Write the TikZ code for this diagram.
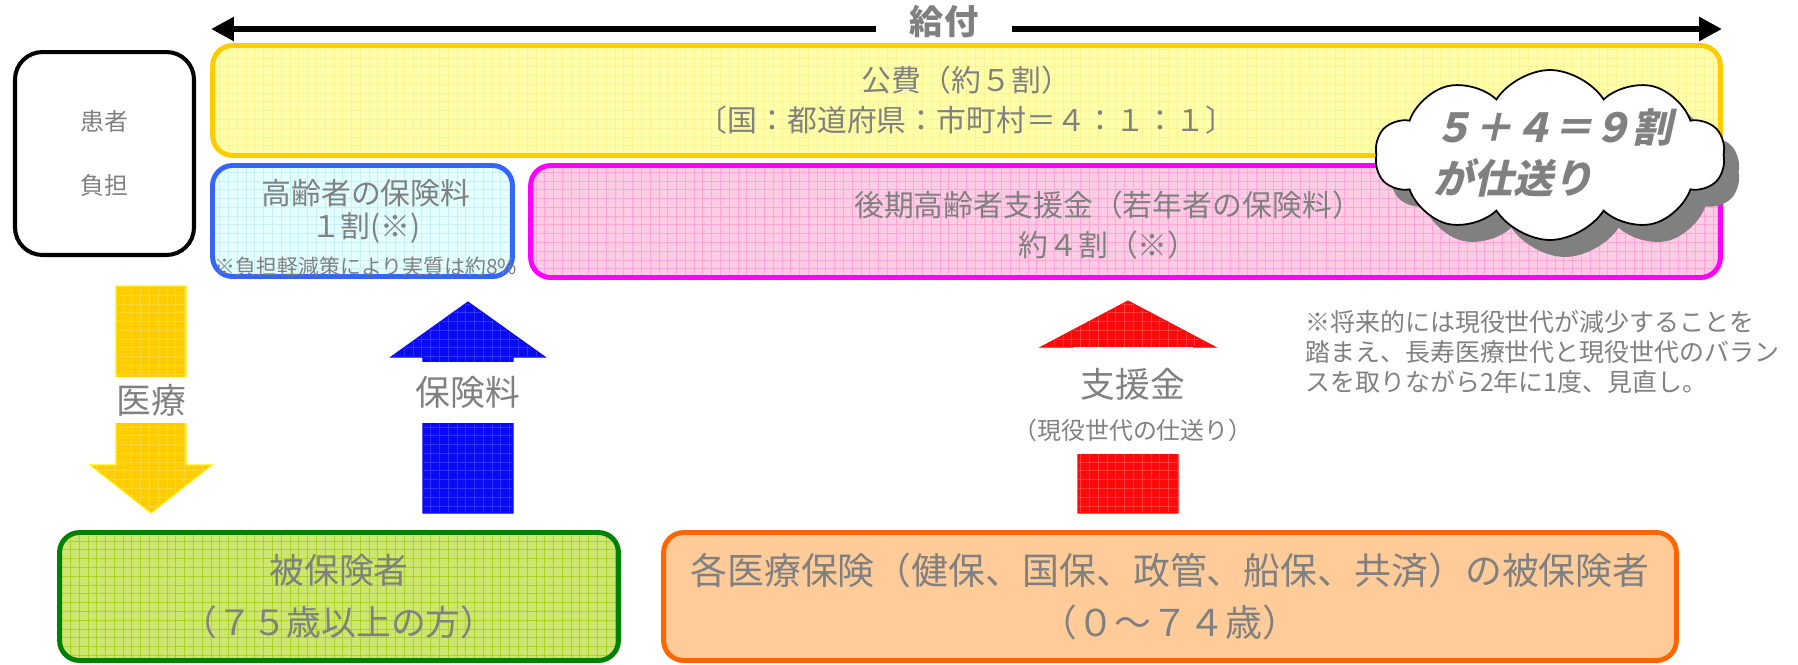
\documentclass[tikz,border=0pt]{standalone}
\usepackage{fontspec}
\setmainfont{Noto Sans CJK JP}
\newfontfamily\cloudfont{Noto Sans CJK JP}[UprightFeatures={FakeSlant=0.22},BoldFeatures={FakeSlant=0.22}]
\usetikzlibrary{arrows.meta,shapes.symbols,shadows,patterns.meta}
\definecolor{txtgray}{RGB}{128,128,128}
\definecolor{kohiline}{RGB}{255,204,0}
\definecolor{kohifill}{RGB}{255,255,170}
\definecolor{kohigrid}{RGB}{252,242,150}
\definecolor{koreiline}{RGB}{51,102,255}
\definecolor{koreifill}{RGB}{228,255,255}
\definecolor{koreigrid}{RGB}{200,240,250}
\definecolor{sienline}{RGB}{255,0,255}
\definecolor{sienfill}{RGB}{255,204,230}
\definecolor{siengrid}{RGB}{255,165,215}
\definecolor{hiholine}{RGB}{0,128,0}
\definecolor{hihofill}{RGB}{204,230,110}
\definecolor{hihogrid}{RGB}{170,210,40}
\definecolor{kakuline}{RGB}{255,102,0}
\definecolor{kakufill}{RGB}{255,204,153}
\definecolor{iryofill}{RGB}{255,204,0}
\definecolor{iryogrid}{RGB}{255,218,50}
\definecolor{hokenfill}{RGB}{10,10,245}
\definecolor{hokengrid}{RGB}{50,50,255}
\definecolor{sienarrow}{RGB}{250,10,10}
\definecolor{sienarrowgrid}{RGB}{255,60,60}
\begin{document}
\begin{tikzpicture}
[
    x=0.02cm, y=-0.02cm,
    every node/.style={text=txtgray, inner sep=0pt},
    box/.style={rounded corners=0.4cm, line width=2.8pt},
    grid fill/.style 2 args={preaction={fill=#1}, pattern={Hatch[distance=5pt,line width=0.35pt]}, pattern color=#2},
    gap/.style={fill=white, font=\fontsize{19.8pt}{24pt}\selectfont},
]
\useasboundingbox (0,0) rectangle (1798,664);
% kyufu
\coordinate (kyufuL) at (211,29);
\coordinate (kyufuR) at (1722,29);
\draw[line width=3.8pt, {Triangle[length=13pt,width=13pt]}-{Triangle[length=13pt,width=13pt]}] (kyufuL) -- (kyufuR);
\node[fill=white, minimum width=2.72cm, minimum height=0.9cm, font=\bfseries\fontsize{19.5pt}{21pt}\selectfont] (kyufu) at (944,22) {給付};
% boxes
\node[box, draw=black, line width=2.3pt, rounded corners=0.55cm, minimum width=3.58cm, minimum height=4.06cm, align=center, font=\fontsize{13.6pt}{36.8pt}\selectfont] (kanja) at (104.5,153.5) {患者\\負担};
\node[box, draw=kohiline, grid fill={kohifill}{kohigrid}, minimum width=30.16cm, minimum height=2.2cm, align=center, font=\fontsize{17pt}{22.7pt}\selectfont] (kohi) at (966.5,100.5) {公費（約５割）\\〔国：都道府県：市町村＝４：１：１〕};
\node[box, draw=koreiline, grid fill={koreifill}{koreigrid}, minimum width=6cm, minimum height=2.22cm] (korei) at (362.5,221) {};
\node[align=center, font=\fontsize{17pt}{18.7pt}\selectfont] (koreitxt) at (366,211) {高齢者の保険料\\１割(※)};
\node[font=\fontsize{11.9pt}{14pt}\selectfont] (keigen) at (366,267) {※負担軽減策により実質は約8\%};
\node[box, draw=sienline, grid fill={sienfill}{siengrid}, minimum width=23.8cm, minimum height=2.24cm] (sien) at (1125.5,221.5) {};
\node[align=center, font=\fontsize{17pt}{22.7pt}\selectfont] (sientxt) at (1108,225) {後期高齢者支援金（若年者の保険料）\\約４割（※）};
% cloud
\node[cloud, cloud puffs=10, cloud puff arc=115, aspect=2, minimum width=7cm, minimum height=3.4cm, draw=black, line width=1pt, fill=white, drop shadow={shadow xshift=0.3cm, shadow yshift=-0.34cm, fill=gray, opacity=1}] (kumo) at (1550,155) {};
\node[align=left, font=\cloudfont\bfseries\fontsize{22.7pt}{29pt}\selectfont] (kumotxt) at (1553,153) {５＋４＝９割\\が仕送り};
% arrows
\filldraw[grid fill={iryofill}{iryogrid}, draw=yellow, line width=0.6pt] (116,286) -- (186,286) -- (186,465) -- (212,465) -- (151,513) -- (90,465) -- (116,465) -- cycle;
\node[gap, minimum width=1.6cm, minimum height=0.92cm] (iryo) at (151,400) {医療};
\filldraw[grid fill={hokenfill}{hokengrid}, draw=hokenfill, line width=0.6pt] (423,513) -- (513,513) -- (513,357) -- (545,357) -- (468,302) -- (391,357) -- (423,357) -- cycle;
\node[gap, minimum width=2.4cm, minimum height=1.22cm] (hoken) at (468,392.5) {保険料};
\filldraw[grid fill={sienarrow}{sienarrowgrid}, draw=sienarrow, line width=0.6pt] (1078,513) -- (1178,513) -- (1178,347) -- (1215,347) -- (1128,301) -- (1041,347) -- (1078,347) -- cycle;
\node[gap, minimum width=2.4cm, minimum height=1.48cm] (sienkin) at (1133,384) {支援金};
\node[fill=white, minimum width=5cm, minimum height=0.96cm, font=\fontsize{13.6pt}{16pt}\selectfont] (shiokuri) at (1133,430) {（現役世代の仕送り）};
% insured
\node[box, draw=hiholine, grid fill={hihofill}{hihogrid}, minimum width=11.18cm, minimum height=2.56cm, align=center, font=\fontsize{19.8pt}{30pt}\selectfont] (hiho) at (339,596.5) {被保険者\\（７５歳以上の方）};
\node[box, draw=kakuline, fill=kakufill, minimum width=20.26cm, minimum height=2.56cm, align=center, font=\fontsize{21pt}{30pt}\selectfont] (kakuiryo) at (1170,596.5) {各医療保険（健保、国保、政管、船保、共済）の被保険者\\（０～７４歳）};
\node[anchor=west, align=left, font=\fontsize{14.2pt}{17pt}\selectfont] (shorai) at (1305,352) {※将来的には現役世代が減少することを\\踏まえ、長寿医療世代と現役世代のバラン\\スを取りながら2年に1度、見直し。};
\end{tikzpicture}
\end{document}
